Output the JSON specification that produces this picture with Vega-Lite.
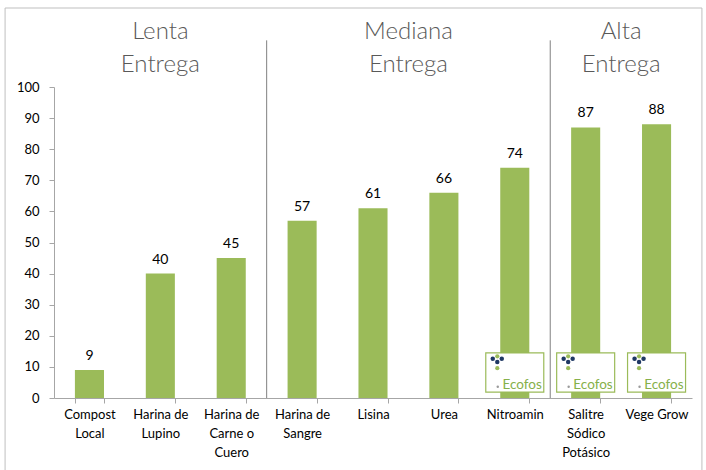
{
  "$schema": "https://vega.github.io/schema/vega-lite/v6.json",
  "autosize": "none",
  "width": 638,
  "height": 311,
  "padding": {"left": 54, "top": 87, "right": 14, "bottom": 72},
  "background": "white",
  "config": {
    "view": {"stroke": null},
    "font": "Lato",
    "axisY": {"title": null, "values": [0,10,20,30,40,50,60,70,80,90,100], "labelOverlap": false, "grid": false, "tickSize": 5, "tickColor": "#a6a6a6", "domainColor": "#a6a6a6", "labelFontSize": 13, "labelColor": "#000000", "labelPadding": 10}
  },
  "datasets": {
    "bars": [
      {"cat": "Compost Local", "value": 9},
      {"cat": "Harina de Lupino", "value": 40},
      {"cat": "Harina de Carne o Cuero", "value": 45},
      {"cat": "Harina de Sangre", "value": 57},
      {"cat": "Lisina", "value": 61},
      {"cat": "Urea", "value": 66},
      {"cat": "Nitroamin", "value": 74},
      {"cat": "Salitre Sódico Potásico", "value": 87},
      {"cat": "Vege Grow", "value": 88}
    ],
    "groups": [
      {"group": "Lenta Entrega", "start": 0, "end": 3},
      {"group": "Mediana Entrega", "start": 3, "end": 7},
      {"group": "Alta Entrega", "start": 7, "end": 9}
    ]
  },
  "resolve": {"scale": {"x": "independent"}, "axis": {"x": "independent"}},
  "layer": [
    {
      "data": {"name": "bars"},
      "encoding": {
        "x": {
          "field": "cat", "type": "nominal", "sort": null,
          "scale": {"paddingInner": 0.59, "paddingOuter": 0.295},
          "axis": {
            "title": null, "labelAngle": 0, "tickBand": "extent", "tickSize": 5,
            "tickColor": "#a6a6a6", "domainColor": "#a6a6a6",
            "labelFontSize": 13, "labelColor": "#000000", "labelPadding": 5,
            "labelLineHeight": 19, "labelBaseline": "top", "labelOverlap": false,
            "labelExpr": "datum.value == 'Compost Local' ? ['Compost','Local'] : datum.value == 'Harina de Lupino' ? ['Harina de','Lupino'] : datum.value == 'Harina de Carne o Cuero' ? ['Harina de','Carne o','Cuero'] : datum.value == 'Harina de Sangre' ? ['Harina de','Sangre'] : datum.value == 'Salitre Sódico Potásico' ? ['Salitre','Sódico','Potásico'] : datum.value"
          }
        }
      },
      "layer": [
        {
          "mark": {"type": "bar", "color": "#9BBB59"},
          "encoding": {
            "y": {
              "field": "value", "type": "quantitative",
              "scale": {"domain": [0, 100], "nice": false},
              "axis": {"values": [0,10,20,30,40,50,60,70,80,90,100], "labelOverlap": false, "tickCount": 11}
            }
          }
        },
        {
          "mark": {"type": "text", "baseline": "bottom", "dy": -7, "fontSize": 14, "color": "#000000"},
          "encoding": {
            "y": {"field": "value", "type": "quantitative", "axis": {"values": [0,10,20,30,40,50,60,70,80,90,100], "labelOverlap": false, "tickCount": 11}},
            "text": {"field": "value", "type": "quantitative"}
          }
        },
        {
          "transform": [{"filter": "indexof(['Nitroamin','Salitre Sódico Potásico','Vege Grow'], datum.cat) >= 0"}],
          "layer": [
            {
              "mark": {"type": "bar", "width": 58, "fill": "white", "stroke": "#9BBB59", "strokeWidth": 1.2},
              "encoding": {"y": {"datum": 14.5, "axis": {"values": [0,10,20,30,40,50,60,70,80,90,100], "labelOverlap": false, "tickCount": 11}}, "y2": {"datum": 1.9}}
            },
            {
              "mark": {"type": "text", "text": "Ecofos", "align": "right", "baseline": "alphabetic", "xOffset": 27, "fontSize": 13.5, "color": "#86b04a"},
              "encoding": {"y": {"datum": 2.9}}
            },
            {
              "mark": {"type": "point", "shape": "circle", "filled": true, "opacity": 1, "size": 6, "color": "#9a9a9a", "xOffset": -17},
              "encoding": {"y": {"datum": 3.6}}
            },
            {
              "mark": {"type": "point", "shape": "circle", "filled": true, "opacity": 1, "size": 20, "color": "#1f3864", "xOffset": -22},
              "encoding": {"y": {"datum": 12.6}}
            },
            {
              "mark": {"type": "point", "shape": "circle", "filled": true, "opacity": 1, "size": 20, "color": "#1f3864", "xOffset": -13},
              "encoding": {"y": {"datum": 12.6}}
            },
            {
              "mark": {"type": "point", "shape": "circle", "filled": true, "opacity": 1, "size": 20, "color": "#1f3864", "xOffset": -17.5},
              "encoding": {"y": {"datum": 11.6}}
            },
            {
              "mark": {"type": "point", "shape": "circle", "filled": true, "opacity": 1, "size": 18, "color": "#9BBB59", "xOffset": -17.5},
              "encoding": {"y": {"datum": 13.4}}
            },
            {
              "mark": {"type": "point", "shape": "circle", "filled": true, "opacity": 1, "size": 18, "color": "#9BBB59", "xOffset": -17.5},
              "encoding": {"y": {"datum": 9.6}}
            }
          ]
        }
      ]
    },
    {
      "data": {"name": "groups"},
      "encoding": {},
      "layer": [
        {
          "transform": [{"filter": "datum.end < 9"}],
          "mark": {"type": "rule", "color": "#808080", "strokeWidth": 1},
          "encoding": {
            "x": {"field": "end", "type": "quantitative", "scale": {"domain": [0, 9], "nice": false, "zero": false}, "axis": null},
            "y": {"datum": 0},
            "y2": {"datum": 115}
          }
        },
        {
          "transform": [{"calculate": "(datum.start + datum.end) / 2", "as": "mid"}],
          "mark": {"type": "text", "lineBreak": " ", "fontSize": 24, "fontWeight": 300, "lineHeight": 33, "baseline": "top", "color": "#595959"},
          "encoding": {
            "x": {"field": "mid", "type": "quantitative"},
            "y": {"datum": 121.5},
            "text": {"field": "group"}
          }
        },
        {
          "transform": [{"filter": "datum.start == 0"}],
          "mark": {"type": "rect", "fill": null, "stroke": "#bfbfbf", "strokeWidth": 1},
          "encoding": {
            "x": {"datum": -0.69},
            "x2": {"datum": 9.14},
            "y": {"datum": 125.4},
            "y2": {"datum": -30}
          }
        }
      ]
    }
  ]
}
